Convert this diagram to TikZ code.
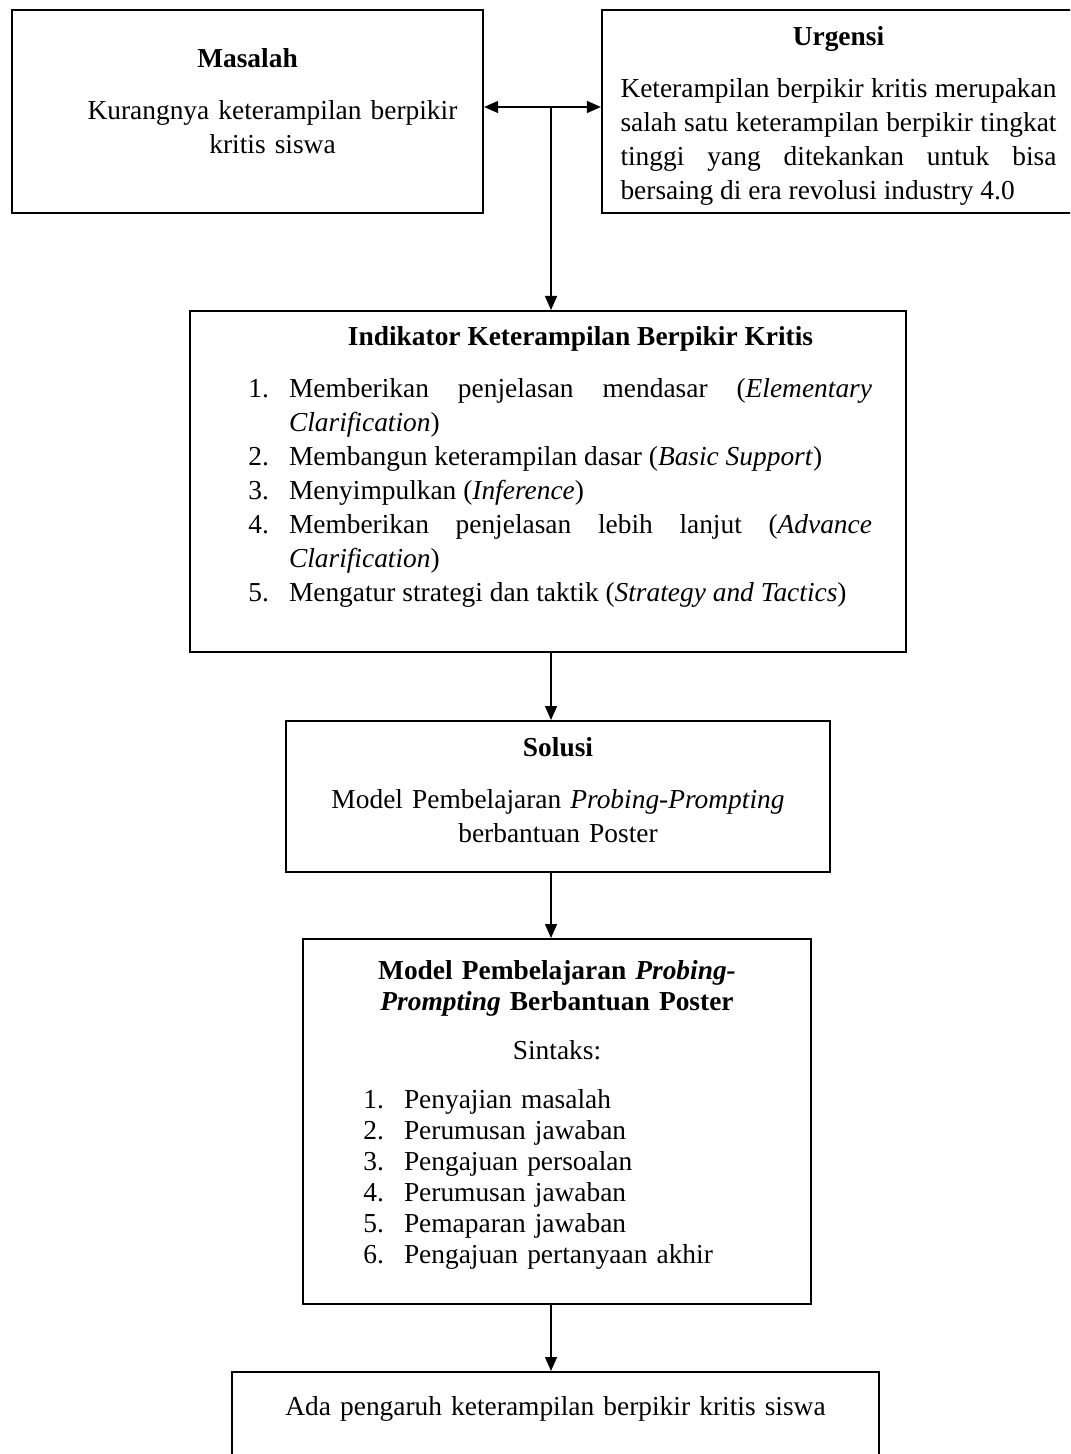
\documentclass[tikz,border=0pt]{standalone}
\usepackage{fontspec}
\setmainfont{Liberation Serif}
\usepackage{enumitem}
\usetikzlibrary{arrows.meta, positioning}

\hyphenpenalty=10000
\tolerance=9999

\newcommand{\titlegap}{\vspace{9pt}}

\begin{document}
\begin{tikzpicture}[
        x = 0.5pt, y = -0.5pt,
        flowbox/.style = {
            rectangle,
            draw            = black,
            line width      = 1.1pt,
            inner sep       = 0pt,
            anchor          = north,
            font            = \fontsize{13.7pt}{17pt}\selectfont
        },
        linkarrow/.style = {-{Triangle[length=7pt, width=6pt]}, line width = 0.7pt},
        bothways/.style  = {{Triangle[length=7pt, width=6pt]}-{Triangle[length=7pt, width=6pt]}, line width = 0.7pt}
    ]

    \useasboundingbox (0, 0) rectangle (1070, 1454);
    \clip (0, 0) rectangle (1070, 1454);

    % problem and urgency
    \node[flowbox, minimum width = 235.5pt, text width = 225pt,
          text height = 28.5pt, text depth = 73pt] (masalah) at (247.5, 9)
        {{\centering\textbf{Masalah}\par}\titlegap
         {\centering\hspace*{25pt}\parbox[t]{190pt}{\centering Kurangnya keterampilan berpikir kritis siswa}\par}};

    \node[flowbox, minimum width = 236.5pt, text width = 218pt, align = justify,
          text height = 17.5pt, text depth = 84pt] (urgensi) at (838.5, 9)
        {{\centering\textbf{Urgensi}\par}\titlegap
         Keterampilan berpikir kritis merupakan salah satu keterampilan berpikir tingkat tinggi yang ditekankan untuk bisa bersaing di era revolusi industry 4.0};

    % indicators
    \node[flowbox, minimum width = 358pt, text width = 324pt, align = justify,
          text height = 17pt, text depth = 153.5pt] (indikator) at (548, 310)
        {{\leftskip=32.5pt plus 1fil\rightskip=0pt plus 1fil\parfillskip=0pt
          \textbf{Indikator Keterampilan Berpikir Kritis}\par}\titlegap
         \begin{enumerate}[label=\arabic*., leftmargin=32.5pt, labelsep=10pt,
                           topsep=0pt, partopsep=0pt, itemsep=0pt, parsep=0pt]
            \item Memberikan penjelasan mendasar (\textit{Elementary Clarification})
            \item Membangun keterampilan dasar (\textit{Basic Support})
            \item Menyimpulkan (\textit{Inference})
            \item Memberikan penjelasan lebih lanjut (\textit{Advance Clarification})
            \item Mengatur strategi dan taktik (\textit{Strategy and Tactics})
         \end{enumerate}};

    % solution
    \node[flowbox, minimum width = 272pt, text width = 260pt, align = center,
          text height = 17.5pt, text depth = 58pt] (solusi) at (558, 720)
        {\textbf{Solusi}\\[9pt]
         Model Pembelajaran \textit{Probing-Prompting}\\
         berbantuan Poster};

    % syntax of the model
    \node[flowbox, minimum width = 254pt, text width = 234pt,
          text height = 20pt, text depth = 162.5pt,
          font = \fontsize{13.7pt}{15.5pt}\selectfont] (model) at (557, 938)
        {{\centering\textbf{Model Pembelajaran \textit{Probing-}}\\
          \textbf{\textit{Prompting} Berbantuan Poster}\par}\titlegap
         {\centering Sintaks:\par}\titlegap
         \begin{enumerate}[label=\arabic*., leftmargin=40.5pt, labelsep=10pt,
                           topsep=0pt, partopsep=0pt, itemsep=0pt, parsep=0pt]
            \item Penyajian masalah
            \item Perumusan jawaban
            \item Pengajuan persoalan
            \item Perumusan jawaban
            \item Pemaparan jawaban
            \item Pengajuan pertanyaan akhir
         \end{enumerate}};

    % result
    \node[flowbox, minimum width = 323.5pt, text width = 300pt, align = center,
          text height = 21.5pt, text depth = 150pt] (hasil) at (555.5, 1371)
        {Ada pengaruh keterampilan berpikir kritis siswa};

    % connectors
    \coordinate (junc) at (551, 107);
    \draw[bothways] (masalah.east |- junc) -- (urgensi.west |- junc);
    \draw[linkarrow] (junc) -- (junc |- indikator.north);
    \draw[linkarrow] (junc |- indikator.south) -- (junc |- solusi.north);
    \draw[linkarrow] (junc |- solusi.south) -- (junc |- model.north);
    \draw[linkarrow] (junc |- model.south) -- (junc |- hasil.north);
\end{tikzpicture}
\end{document}
